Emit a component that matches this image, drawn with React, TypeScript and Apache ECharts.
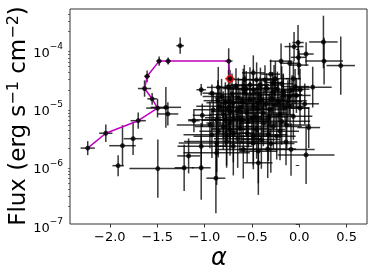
import React, { useEffect, useRef } from 'react';
import * as echarts from 'echarts';

// Observations: spectral index alpha, its half-width error, flux, flux error (dex)
const alpha = [
  -2.233, -2.042, -1.70, -1.496, -1.553, -1.633, -1.606, -1.479, -1.384, -0.745, -0.731,
  -1.257, -1.912, -1.866, -1.754, -1.493, -1.408, -1.387, -1.215, -1.168,
  -0.485, -0.192, -0.101, -0.062, -0.002, -0.009, 0.072, -0.055, -0.013, 0.255, 0.262, 0.438, -0.302, -0.252, -0.58,
  -1.035, -0.922, -0.855, -0.746, -0.668, -0.591, -0.52, -0.485, -0.414, -0.344, -0.231, -0.168, -0.104, -0.076, -0.044, 0.008, 0.142, -0.266, -0.185, -0.362,
  -1.024, -0.908, -0.837, -0.802, -0.731, -0.696, -0.626, -0.555, -0.485, -0.432, -0.379, -0.309, -0.256, -0.203, -0.15, -0.097, 0.008, 0.058, -0.062, -0.52, -0.696, -0.872,
  -1.112, -0.943, -0.855, -0.802, -0.731, -0.696, -0.626, -0.538, -0.45, -0.379, -0.326, -0.273, -0.203, -0.132, 0.10, -0.922, -0.767, -0.485, -0.238,
  -1.035, -0.872, -0.767, -0.696, -0.591, -0.485, -0.432, -0.333, -0.14, -0.087, 0.072, -0.872,
  -1.035, -0.88, -0.432,
  -0.82, -0.643, -0.573, -0.45, -0.397, -0.291, -0.608, -0.467, -0.185, -0.731,
  -0.78, -0.71, -0.66, -0.6, -0.56, -0.5, -0.44, -0.41, -0.35, -0.32, -0.28, -0.22, -0.12, -0.03, -0.86, -0.75, -0.78, -0.55, -0.4, -0.3, -0.65, -0.17,
];
const alphaErr = [
  0.075, 0.07, 0.08, 0.12, 0.05, 0.07, 0.03, 0.03, 0.03, 0.04, 0.05,
  0.04, 0.06, 0.14, 0.1, 0.3, 0.16, 0.11, 0.1, 0.12,
  0.12, 0.12, 0.1, 0.08, 0.1, 0.08, 0.08, 0.1, 0.06, 0.15, 0.2, 0.15, 0.1, 0.15, 0.12,
  0.05, 0.1, 0.12, 0.1, 0.12, 0.15, 0.2, 0.1, 0.15, 0.12, 0.15, 0.2, 0.1, 0.12, 0.15, 0.1, 0.2, 0.1, 0.12, 0.15,
  0.1, 0.2, 0.25, 0.15, 0.2, 0.15, 0.25, 0.2, 0.15, 0.2, 0.25, 0.15, 0.2, 0.15, 0.25, 0.15, 0.1, 0.15, 0.2, 0.3, 0.3, 0.3,
  0.06, 0.35, 0.2, 0.3, 0.25, 0.2, 0.3, 0.2, 0.3, 0.25, 0.2, 0.3, 0.2, 0.25, 0.12, 0.3, 0.35, 0.3, 0.2,
  0.25, 0.4, 0.45, 0.2, 0.3, 0.25, 0.2, 0.3, 0.12, 0.25, 0.3, 0.35,
  0.1, 0.1, 0.15,
  0.2, 0.25, 0.15, 0.2, 0.25, 0.2, 0.3, 0.25, 0.3, 0.2,
  0.2, 0.25, 0.2, 0.2, 0.25, 0.2, 0.15, 0.2, 0.25, 0.2, 0.2, 0.25, 0.2, 0.15, 0.15, 0.1, 0.25, 0.25, 0.2, 0.25, 0.25, 0.2,
];
const flux = [
  2.0e-6, 3.6e-6, 5.9e-6, 9.7e-6, 1.4e-5, 2.1e-5, 3.4e-5, 6.2e-5, 6.2e-5, 6.2e-5, 3.1e-5,
  1.14e-4, 1.0e-6, 2.2e-6, 2.9e-6, 8.9e-7, 1.0e-5, 7.7e-6, 9.2e-7, 1.47e-6,
  3.9e-5, 6.2e-5, 5.7e-5, 3.1e-5, 5.3e-5, 7.2e-5, 8.2e-5, 1.1e-4, 1.29e-4, 1.32e-4, 6.2e-5, 5.2e-5, 3.7e-5, 3.1e-5, 3.0e-5,
  2.0e-5, 1.75e-5, 2.2e-5, 2.2e-5, 2.34e-5, 2.05e-5, 2.43e-5, 2.0e-5, 1.64e-5, 2.13e-5, 2.05e-5, 1.64e-5, 1.54e-5, 2.0e-5, 2.27e-5, 2.05e-5, 2.22e-5, 2.66e-5, 2.53e-5, 2.96e-5,
  7.3e-6, 9.1e-6, 1.04e-5, 7.5e-6, 8.5e-6, 1.18e-5, 9.7e-6, 8.0e-6, 1.04e-5, 1.18e-5, 8.0e-6, 9.1e-6, 1.1e-5, 7.5e-6, 9.7e-6, 1.04e-5, 9.7e-6, 1.15e-5, 7.0e-6, 1.35e-5, 6.6e-6, 6.1e-6,
  5.9e-6, 5.0e-6, 3.9e-6, 4.7e-6, 5.4e-6, 3.6e-6, 4.4e-6, 5.75e-6, 4.15e-6, 5.4e-6, 3.4e-6, 4.7e-6, 3.9e-6, 5.0e-6, 4.5e-6, 3.4e-6, 3.2e-6, 3.2e-6, 3.2e-6,
  2.15e-6, 2.45e-6, 2.6e-6, 2.15e-6, 1.9e-6, 2.45e-6, 1.77e-6, 1.94e-6, 2.55e-6, 1.9e-6, 1.53e-6, 1.66e-6,
  9.2e-7, 6.1e-7, 1.12e-6,
  1.54e-5, 1.44e-5, 1.75e-5, 2.96e-5, 1.35e-5, 1.44e-5, 6.1e-6, 7.0e-6, 5.75e-6, 4.15e-6,
  1.2e-5, 1.7e-5, 8.8e-6, 1.25e-5, 2.1e-5, 6.4e-6, 9.3e-6, 2.4e-5, 1.15e-5, 6.8e-6, 1.8e-5, 1.25e-5, 1.3e-5, 1.6e-5, 1.3e-5, 1.0e-5, 6.0e-6, 3.6e-6, 2.8e-6, 2.4e-6, 2.9e-6, 1.9e-5,
];
const fluxErrDex = [
  0.12, 0.15, 0.14, 0.16, 0.1, 0.14, 0.1, 0.08, 0.06, 0.22, 0.15,
  0.14, 0.18, 0.35, 0.28, 0.5, 0.35, 0.2, 0.4, 0.3,
  0.3, 0.3, 0.35, 0.3, 0.25, 0.3, 0.2, 0.25, 0.3, 0.45, 0.4, 0.5, 0.25, 0.3, 0.25,
  0.1, 0.15, 0.35, 0.3, 0.3, 0.35, 0.3, 0.35, 0.3, 0.25, 0.3, 0.35, 0.3, 0.25, 0.3, 0.35, 0.35, 0.3, 0.3, 0.25,
  0.2, 0.3, 0.35, 0.4, 0.45, 0.3, 0.35, 0.4, 0.3, 0.35, 0.4, 0.3, 0.35, 0.4, 0.3, 0.35, 0.3, 0.35, 0.4, 0.3, 0.4, 0.45,
  0.2, 0.4, 0.45, 0.4, 0.45, 0.5, 0.4, 0.45, 0.5, 0.4, 0.45, 0.4, 0.5, 0.4, 0.35, 0.4, 0.5, 0.5, 0.4,
  0.4, 0.5, 0.45, 0.5, 0.5, 0.45, 0.55, 0.5, 0.4, 0.45, 0.5, 0.55,
  0.55, 0.6, 0.55,
  0.3, 0.35, 0.3, 0.3, 0.35, 0.3, 0.4, 0.45, 0.4, 0.45,
  0.35, 0.35, 0.4, 0.35, 0.3, 0.45, 0.4, 0.3, 0.35, 0.4, 0.35, 0.35, 0.35, 0.3, 0.35, 0.4, 0.45, 0.5, 0.5, 0.5, 0.5, 0.3,
];

// Time-ordered track (magenta) ending at the current state (red)
const trackAlpha = [-2.233, -2.042, -1.70, -1.496, -1.553, -1.633, -1.606, -1.479, -1.384, -0.745, -0.731];
const trackFlux = [2.0e-6, 3.6e-6, 5.9e-6, 9.7e-6, 1.4e-5, 2.1e-5, 3.4e-5, 6.2e-5, 6.2e-5, 6.2e-5, 3.1e-5];
const currentAlpha = [-0.731];
const currentFlux = [3.1e-5];

const xTicks = [-2, -1.5, -1, -0.5, 0, 0.5];
const yTicks = [1e-7, 1e-6, 1e-5, 1e-4];
const yMinorFactors = [2, 3, 4, 5, 6, 7, 8, 9];
const yDecades = [1e-7, 1e-6, 1e-5, 1e-4];

const X_MIN = -2.42;
const X_MAX = 0.715;
const Y_MIN = 1e-7;
const Y_MAX = 4.85e-4;

const FONT = 'DejaVu Sans';

export default function App() {
  const ref = useRef<HTMLDivElement>(null);
  useEffect(() => {
    if (!ref.current) return;
    const chart = echarts.init(ref.current, undefined, { renderer: 'svg' });
    const minorVals: number[] = [];
    yDecades.forEach((d) => yMinorFactors.forEach((k) => {
      const v = d * k;
      if (v < Y_MAX) minorVals.push(v);
    }));
    const fmtX = (v: number) => (v < 0 ? '\u2212' : '') + Math.abs(v).toFixed(1);
    const fmtY = (v: number) => `{b|10}{s|\u2212${-Math.round(Math.log10(v))}}`;
    const pts = alpha.map((a, i) => [a, flux[i], alphaErr[i], fluxErrDex[i]]);
    chart.setOption({
      animation: false,
      grid: {
        left: 70, top: 9, width: 297, height: 215,
        show: true, borderColor: '#333', borderWidth: 1, backgroundColor: 'transparent',
      },
      xAxis: {
        type: 'value', min: X_MIN, max: X_MAX,
        splitLine: { show: false },
        axisLine: { show: false },
        axisTick: { show: true, customValues: xTicks, length: 3.5, lineStyle: { color: '#333', width: 1 } },
        axisLabel: {
          customValues: xTicks, formatter: fmtX, margin: 6,
          fontSize: 13, fontFamily: FONT, color: '#000',
        },
      },
      yAxis: [
        {
          type: 'log', min: Y_MIN, max: Y_MAX, logBase: 10,
          splitLine: { show: false },
          axisLine: { show: false },
          axisTick: { show: true, customValues: yTicks, length: 3.5, lineStyle: { color: '#333', width: 1 } },
          axisLabel: {
            customValues: yTicks, formatter: fmtY, margin: 7,
            fontFamily: FONT, color: '#000',
            rich: {
              b: { fontSize: 13, fontFamily: FONT, color: '#000', padding: [6, 0, 0, 0] },
              s: { fontSize: 9, fontFamily: FONT, color: '#000', padding: [0, 0, 6, 0] },
            },
          },
        },
        {
          type: 'log', min: Y_MIN, max: Y_MAX, logBase: 10, position: 'left',
          splitLine: { show: false },
          axisLine: { show: false },
          axisLabel: { show: false },
          axisTick: { show: true, customValues: minorVals, length: 2, lineStyle: { color: '#333', width: 0.7 } },
        },
      ],
      graphic: [
        {
          type: 'text', x: 17, y: 116, rotation: Math.PI / 2,
          style: {
            text: 'Flux (erg s{s|\u22121} cm{s|\u22122})',
            fontSize: 23, fontFamily: FONT, fill: '#000',
            align: 'center', verticalAlign: 'middle',
            rich: {
              s: { fontSize: 16, fontFamily: FONT, fill: '#000', padding: [0, 0, 10, 0] },
            },
          },
        },
        {
          type: 'text', x: 219, y: 257,
          style: {
            text: '\u03b1', fontSize: 24, fontStyle: 'italic', fontFamily: FONT, fill: '#000',
            align: 'center', verticalAlign: 'middle',
          },
        },
      ],
      series: [
        {
          type: 'custom', yAxisIndex: 0, clip: true, z: 2,
          data: pts,
          encode: { x: 0, y: 1 },
          renderItem: (params: any, api: any) => {
            const x = api.value(0), y = api.value(1), ex = api.value(2), ed = api.value(3);
            const f = Math.pow(10, ed);
            const l = api.coord([x - ex, y]);
            const r = api.coord([x + ex, y]);
            const t = api.coord([x, y * f]);
            const b = api.coord([x, y / f]);
            const style = { stroke: 'rgba(0,0,0,0.78)', lineWidth: 1.5, fill: 'none' };
            return {
              type: 'group',
              children: [
                { type: 'line', shape: { x1: l[0], y1: l[1], x2: r[0], y2: r[1] }, style },
                { type: 'line', shape: { x1: t[0], y1: t[1], x2: b[0], y2: b[1] }, style },
              ],
            };
          },
        },
        {
          type: 'line', yAxisIndex: 0, z: 3,
          data: trackAlpha.map((a, i) => [a, trackFlux[i]]),
          symbol: 'none',
          lineStyle: { color: '#bf00bf', width: 1.5 },
        },
        {
          type: 'scatter', yAxisIndex: 0, z: 4,
          data: currentAlpha.map((a, i) => [a, currentFlux[i]]),
          symbol: 'circle', symbolSize: 8,
          itemStyle: { color: '#ff0000' },
        },
        {
          type: 'scatter', yAxisIndex: 0, z: 5,
          data: alpha.map((a, i) => [a, flux[i]]),
          symbol: 'circle', symbolSize: 5,
          itemStyle: { color: '#000' },
        },
      ],
    });
    return () => chart.dispose();
  }, []);
  return <div ref={ref} style={{ position: 'fixed', left: 0, top: 0, width: 374, height: 272 }} />;
}
